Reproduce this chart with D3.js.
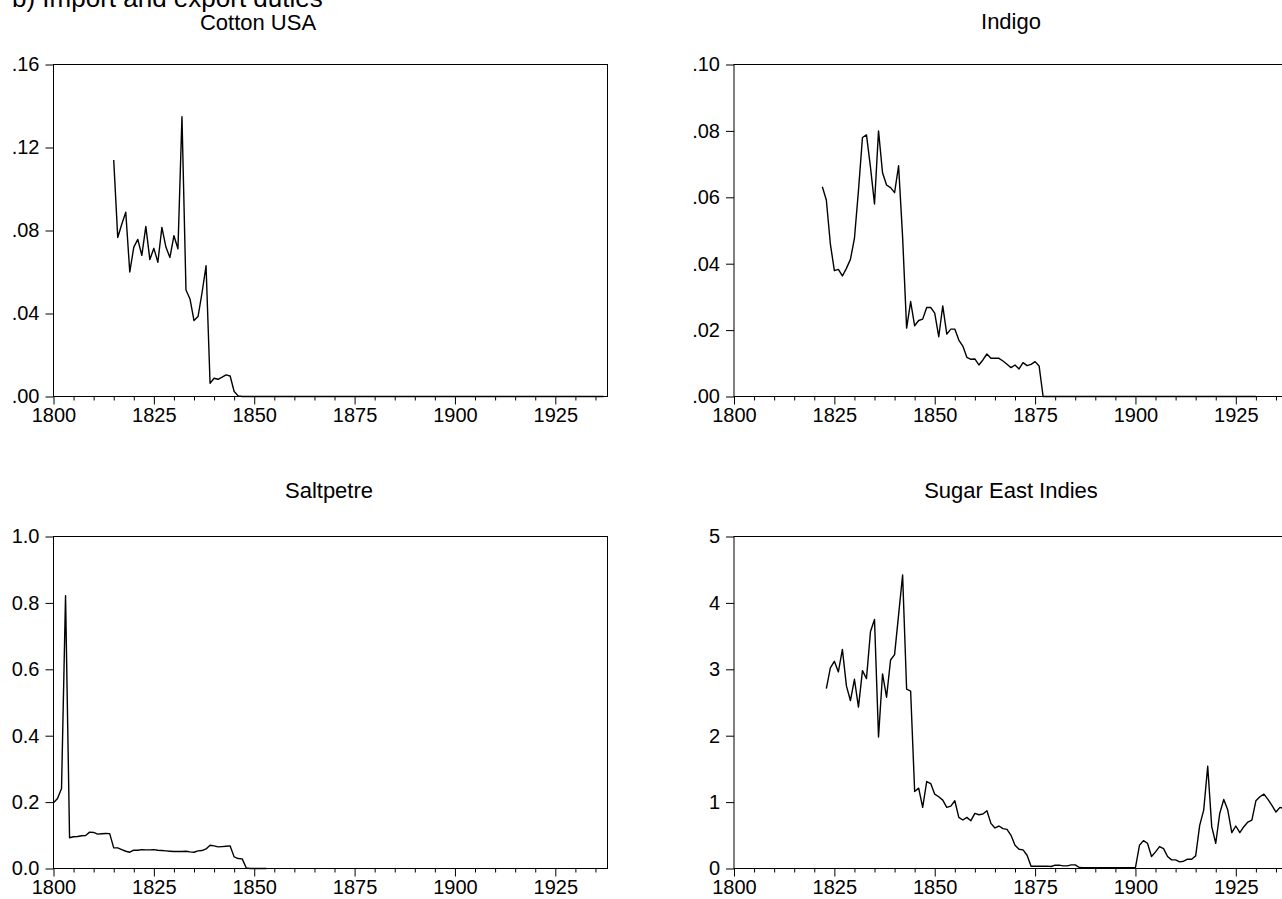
<!DOCTYPE html>
<html>
<head>
<meta charset="utf-8">
<script src="https://cdn.jsdelivr.net/npm/d3@7"></script>
<style>
  body { margin: 0; background: #fff; }
  svg { display: block; font-family: "Liberation Sans", Arial, sans-serif; }
</style>
</head>
<body>
<div id="container"></div>
<script>
/* DATA - one value per year */

// Cotton USA, 1815 - 1937
const cottonStart = 1815
const cottonValues = [
  0.114, 0.0766, 0.083, 0.0888, 0.060, 0.072, 0.0757, 0.068, 0.082, 0.066,
  0.0714, 0.0647, 0.0815, 0.072, 0.067, 0.0775, 0.0712, 0.1348, 0.0513, 0.047,
  0.0366, 0.0385, 0.050, 0.063, 0.0064, 0.0088, 0.0083, 0.0093, 0.0104, 0.0099,
  0.0024, 0.0003,
  0, 0, 0, 0, 0, 0, 0, 0, 0, 0, 0, 0, 0, 0, 0, 0, 0, 0, 0, 0,
  0, 0, 0, 0, 0, 0, 0, 0, 0, 0, 0, 0, 0, 0, 0, 0, 0, 0, 0, 0,
  0, 0, 0, 0, 0, 0, 0, 0, 0, 0, 0, 0, 0, 0, 0, 0, 0, 0, 0, 0,
  0, 0, 0, 0, 0, 0, 0, 0, 0, 0, 0, 0, 0, 0, 0, 0, 0, 0, 0, 0,
  0, 0, 0, 0, 0, 0, 0, 0, 0, 0, 0
]

// Indigo, 1822 - 1930
const indigoStart = 1822
const indigoValues = [
  0.0632, 0.0592, 0.046, 0.0379, 0.0383, 0.0363, 0.0386, 0.0413, 0.0476, 0.062,
  0.078, 0.0788, 0.069, 0.058, 0.080, 0.0674, 0.0637, 0.0629, 0.0614, 0.0695,
  0.048, 0.0206, 0.0286, 0.0213, 0.0229, 0.0233, 0.0268, 0.0268, 0.0251, 0.018,
  0.0273, 0.0188, 0.0203, 0.0203, 0.017, 0.0152, 0.0118, 0.0112, 0.0113, 0.0095,
  0.011, 0.0128, 0.0115, 0.0115, 0.0115, 0.0107, 0.0097, 0.0087, 0.0095, 0.0083,
  0.0102, 0.0093, 0.0097, 0.0105, 0.0092,
  0, 0, 0, 0, 0, 0, 0, 0, 0, 0, 0, 0, 0, 0, 0, 0, 0, 0, 0, 0,
  0, 0, 0, 0, 0, 0, 0, 0, 0, 0, 0, 0, 0, 0, 0, 0, 0, 0, 0, 0,
  0, 0, 0, 0, 0, 0, 0, 0, 0, 0, 0, 0, 0, 0
]

// Saltpetre, 1800 - 1853
const saltpetreStart = 1800
const saltpetreValues = [
  0.198, 0.211, 0.241, 0.822, 0.0925, 0.0955, 0.0965, 0.0985, 0.0995, 0.1095,
  0.1085, 0.1035, 0.1045, 0.1055, 0.105, 0.062, 0.062, 0.057, 0.052, 0.049,
  0.055, 0.055, 0.057, 0.056, 0.056, 0.057, 0.055, 0.054, 0.053, 0.052,
  0.051, 0.051, 0.051, 0.052, 0.050, 0.049, 0.053, 0.054, 0.059, 0.070,
  0.068, 0.065, 0.066, 0.067, 0.068, 0.035, 0.030, 0.029, 0.002,
  0, 0, 0, 0, 0
]

// Sugar East Indies, 1823 - 1937
const sugarStart = 1823
const sugarValues = [
  2.71, 3.02, 3.12, 2.96, 3.30, 2.75, 2.53, 2.85, 2.43, 2.98,
  2.86, 3.57, 3.75, 1.98, 2.93, 2.58, 3.14, 3.22, 3.82, 4.42,
  2.70, 2.67, 1.16, 1.21, 0.92, 1.31, 1.28, 1.12, 1.08, 1.03,
  0.92, 0.94, 1.02, 0.77, 0.73, 0.77, 0.72, 0.83, 0.81, 0.82,
  0.87, 0.68, 0.61, 0.64, 0.60, 0.59, 0.50, 0.35, 0.29, 0.28,
  0.20, 0.035, 0.035, 0.035, 0.035, 0.035, 0.03, 0.05, 0.05, 0.04,
  0.04, 0.055, 0.055, 0.015, 0.012, 0.012, 0.012, 0.012, 0.012, 0.012,
  0.012, 0.012, 0.012, 0.012, 0.012, 0.012, 0.012, 0.015, 0.35, 0.42,
  0.38, 0.18, 0.25, 0.33, 0.30, 0.18, 0.13, 0.13, 0.10, 0.11,
  0.14, 0.14, 0.19, 0.65, 0.88, 1.54, 0.63, 0.38, 0.83, 1.04,
  0.88, 0.54, 0.64, 0.54, 0.63, 0.70, 0.73, 1.02, 1.08, 1.12,
  1.04, 0.95, 0.85, 0.92, 0.90
]

// TICKS AND LABELS
const xDomain = [1800, 1938]
const xMajorTicks = [1800, 1825, 1850, 1875, 1900, 1925]
const xMinorTicks = [1805, 1810, 1815, 1820, 1830, 1835, 1840, 1845,
  1855, 1860, 1865, 1870, 1880, 1885, 1890, 1895,
  1905, 1910, 1915, 1920, 1930, 1935]

const cottonYTicks = [0, 0.04, 0.08, 0.12, 0.16]
const cottonYLabels = [".00", ".04", ".08", ".12", ".16"]
const indigoYTicks = [0, 0.02, 0.04, 0.06, 0.08, 0.10]
const indigoYLabels = [".00", ".02", ".04", ".06", ".08", ".10"]
const saltpetreYTicks = [0, 0.2, 0.4, 0.6, 0.8, 1.0]
const saltpetreYLabels = ["0.0", "0.2", "0.4", "0.6", "0.8", "1.0"]
const sugarYTicks = [0, 1, 2, 3, 4, 5]
const sugarYLabels = ["0", "1", "2", "3", "4", "5"]

/* CONSTANTS AND GLOBALS */
const width = 1282,
  height = 899,
  plotW = 554,
  tickFont = 20

const svg = d3.select("#container")
  .append("svg")
  .attr("width", width)
  .attr("height", height)

// heading, cut at the top of the picture
svg.append("text")
  .attr("x", 12)
  .attr("y", 7)
  .attr("font-size", 26)
  .text("b) Import and export duties")

// one panel = frame + axes + line
function drawPanel(p) {
  const x = d3.scaleLinear().domain(xDomain).range([p.left, p.left + plotW])
  const y = d3.scaleLinear().domain([0, p.yTicks[p.yTicks.length - 1]]).range([p.bottom, p.top])

  const g = svg.append("g")

  g.append("text")
    .attr("x", p.titleX)
    .attr("y", p.titleY)
    .attr("text-anchor", "middle")
    .attr("font-size", 22)
    .text(p.title)

  // minor x ticks
  g.append("g")
    .attr("transform", `translate(0,${p.bottom})`)
    .call(d3.axisBottom(x).tickValues(xMinorTicks).tickSize(4).tickFormat(""))
    .call(a => a.select(".domain").remove())

  // major x ticks
  g.append("g")
    .attr("transform", `translate(0,${p.bottom})`)
    .call(d3.axisBottom(x).tickValues(xMajorTicks).tickSize(8).tickPadding(3).tickFormat(d3.format("d")))
    .call(a => a.select(".domain").remove())
    .call(a => a.selectAll("text").attr("font-size", tickFont).attr("font-family", null).attr("fill", "#000"))

  // y ticks
  g.append("g")
    .attr("transform", `translate(${p.left},0)`)
    .call(d3.axisLeft(y).tickValues(p.yTicks).tickSize(8).tickPadding(6).tickFormat((d, i) => p.yLabels[i]))
    .call(a => a.select(".domain").remove())
    .call(a => a.selectAll("text").attr("font-size", tickFont).attr("font-family", null).attr("fill", "#000"))

  g.selectAll(".tick line").attr("stroke", "#000")

  // frame
  g.append("rect")
    .attr("x", p.left)
    .attr("y", p.top)
    .attr("width", plotW)
    .attr("height", p.bottom - p.top)
    .attr("fill", "none")
    .attr("stroke", "#000")
    .attr("stroke-width", 1)

  const line = d3.line()
    .x((d, i) => x(p.start + i))
    .y(d => y(d))

  g.append("path")
    .datum(p.values)
    .attr("d", line)
    .attr("fill", "none")
    .attr("stroke", "#000")
    .attr("stroke-width", 1.4)
    .attr("stroke-linejoin", "round")
}

const panels = [
  { title: "Cotton USA", titleX: 258, titleY: 30, left: 53.5, top: 64.5, bottom: 396.5,
    start: cottonStart, values: cottonValues, yTicks: cottonYTicks, yLabels: cottonYLabels },
  { title: "Indigo", titleX: 1011, titleY: 29, left: 734, top: 64.5, bottom: 396.5,
    start: indigoStart, values: indigoValues, yTicks: indigoYTicks, yLabels: indigoYLabels },
  { title: "Saltpetre", titleX: 329, titleY: 498, left: 53.5, top: 536.5, bottom: 868.5,
    start: saltpetreStart, values: saltpetreValues, yTicks: saltpetreYTicks, yLabels: saltpetreYLabels },
  { title: "Sugar East Indies", titleX: 1011, titleY: 498, left: 734, top: 536.5, bottom: 868.5,
    start: sugarStart, values: sugarValues, yTicks: sugarYTicks, yLabels: sugarYLabels }
]

panels.forEach(drawPanel)
</script>
</body>
</html>
